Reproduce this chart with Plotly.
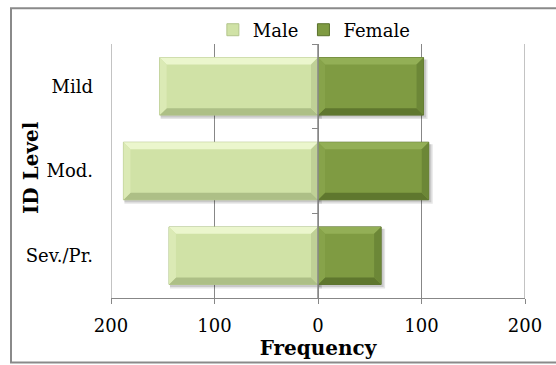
import plotly.graph_objects as go

# Frequency of ID level by sex
levels = ["Mild", "Mod.", "Sev./Pr."]
male = [153, 188, 144]
female = [102, 107, 61]

tick_vals = [-200, -100, 0, 100, 200]
tick_text = ["200", "100", "0", "100", "200"]

W, H = 556, 365
ML, MR, MT, MB = 111, 31, 42, 67
PW, PH = W - ML - MR, H - MT - MB
XMIN, XMAX = -200, 200
BARGAP = 0.32
BAR_W = 1 - BARGAP

px_x = PW / (XMAX - XMIN)          # pixels per frequency unit
px_y = PH / len(levels)            # pixels per category
BEVEL = 7
bx, by = BEVEL / px_x, BEVEL / px_y

FONT = "DejaVu Serif"
GRID = "#878787"

MALE = dict(face="#d0e2a6", top="#ebf6cd", bottom="#adbf86",
            left="#dbeab5", right="#bfd096", edge="#b3c58c")
FEMALE = dict(face="#7f9b42", top="#93af56", bottom="#5f772e",
              left="#87a34a", right="#6c8737", edge="#5a712c")

fig = go.Figure()
fig.add_trace(go.Bar(
    y=levels, x=[-v for v in male], customdata=male, orientation="h",
    name="Male", marker=dict(color=MALE["face"], line=dict(color=MALE["edge"], width=1)),
    hovertemplate="%{y}: %{customdata}<extra>Male</extra>",
))
fig.add_trace(go.Bar(
    y=levels, x=female, orientation="h", yaxis="y2",
    name="Female", marker=dict(color=FEMALE["face"], line=dict(color=FEMALE["edge"], width=1)),
    hovertemplate="%{y}: %{x}<extra>Female</extra>",
))


def poly(pts):
    return "M " + " L ".join(f"{x},{y}" for x, y in pts) + " Z"


shapes = []
# outer gridlines at the ends of the frequency range
for xv in (XMIN, XMAX):
    shapes.append(dict(type="line", layer="between", xref="x", yref="paper",
                       x0=xv, x1=xv, y0=0, y1=1, line=dict(color=GRID, width=1)))

for i, lvl in enumerate(levels):
    yt, yb = i - BAR_W / 2, i + BAR_W / 2
    for val, pal in ((-male[i], MALE), (female[i], FEMALE)):
        x0, x1 = min(0, val), max(0, val)
        # soft drop shadow
        for k, op in ((4, 0.10), (2.5, 0.12)):
            shapes.append(dict(type="rect", layer="between", xref="x", yref="y",
                               x0=x0 + 1 / px_x, x1=x1 + k / px_x,
                               y0=yt + 2 / px_y, y1=yb + k / px_y,
                               fillcolor="black", opacity=op, line=dict(width=0)))
        # bevel facets
        facets = [
            ([(x0, yt), (x1, yt), (x1 - bx, yt + by), (x0 + bx, yt + by)], pal["top"]),
            ([(x0, yb), (x1, yb), (x1 - bx, yb - by), (x0 + bx, yb - by)], pal["bottom"]),
            ([(x0, yt), (x0 + bx, yt + by), (x0 + bx, yb - by), (x0, yb)], pal["left"]),
            ([(x1, yt), (x1 - bx, yt + by), (x1 - bx, yb - by), (x1, yb)], pal["right"]),
        ]
        for pts, col in facets:
            shapes.append(dict(type="path", layer="above", xref="x", yref="y",
                               path=poly(pts), fillcolor=col, line=dict(width=0)))

# zero axis line drawn over the bars
shapes.append(dict(type="line", layer="above", xref="x", yref="paper",
                   x0=0, x1=0, y0=0, y1=1, line=dict(color=GRID, width=1.5)))
# chart frame
shapes.append(dict(type="rect", layer="below", xref="paper", yref="paper",
                   x0=(11 - ML) / PW, x1=(W + 5 - ML) / PW,
                   y0=-(H - 2 - MT - PH) / PH, y1=1 + (MT - 6) / PH,
                   line=dict(color="#8a8a8a", width=2), fillcolor="rgba(0,0,0,0)"))

fig.update_layout(
    width=W, height=H,
    margin=dict(l=ML, r=MR, t=MT, b=MB),
    paper_bgcolor="white", plot_bgcolor="white",
    barmode="overlay", bargap=BARGAP,
    font=dict(family=FONT, size=18, color="black"),
    showlegend=True,
    legend=dict(orientation="h", x=0.49, xanchor="center", y=1.055, yanchor="middle",
                font=dict(size=18), itemwidth=30, tracegroupgap=0,
                bgcolor="rgba(0,0,0,0)"),
    xaxis=dict(range=[XMIN, XMAX], tickvals=tick_vals, ticktext=tick_text,
               showgrid=True, gridcolor=GRID, gridwidth=1, zeroline=False,
               showline=True, linecolor=GRID, linewidth=1,
               ticks="outside", ticklen=5, tickcolor=GRID, ticklabelstandoff=6,
               title=dict(text="<b>Frequency</b>", font=dict(size=20), standoff=0),
               fixedrange=True),
    yaxis=dict(categoryorder="array", categoryarray=levels, autorange="reversed",
               showgrid=False, zeroline=False, showline=False, ticks="",
               ticklabelstandoff=17, fixedrange=True),
    yaxis2=dict(categoryorder="array", categoryarray=levels, autorange="reversed",
                overlaying="y", anchor="free", position=0.5, side="left",
                showgrid=False, zeroline=False, showline=False,
                ticks="outside", tickson="boundaries", ticklen=6, tickcolor=GRID,
                showticklabels=False, fixedrange=True),
    shapes=shapes,
    annotations=[dict(text="<b>ID Level</b>", textangle=-90, xref="paper", yref="paper",
                      x=(31 - ML) / PW, y=1 - (167 - MT) / PH,
                      xanchor="center", yanchor="middle", showarrow=False,
                      font=dict(size=20))],
)

fig.write_html("out.html")
